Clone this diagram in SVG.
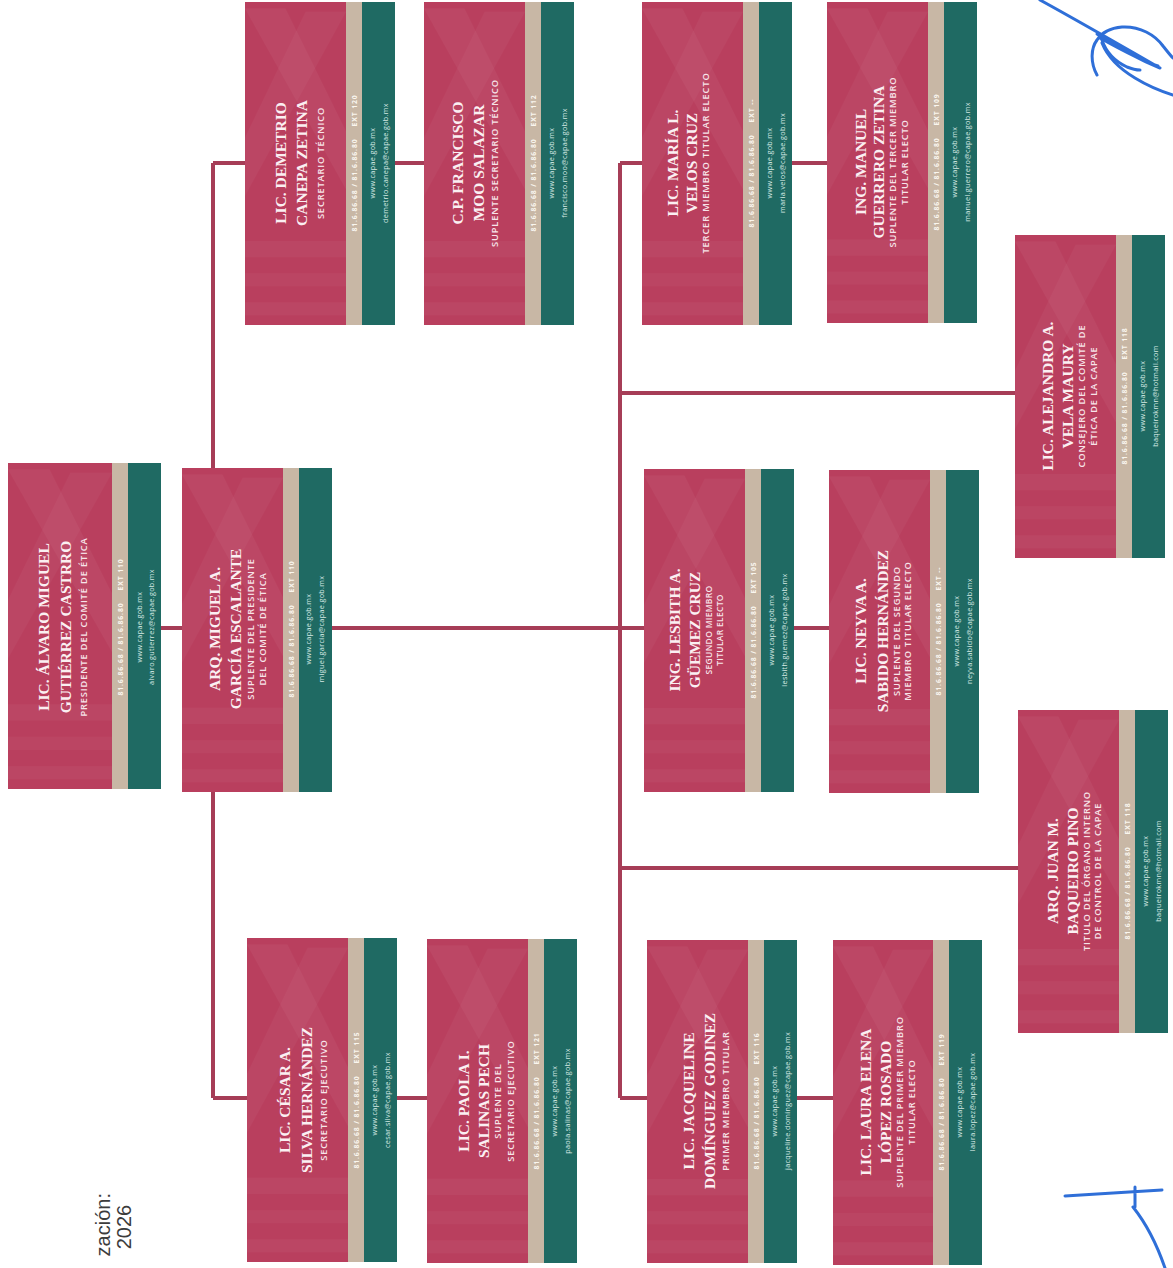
<svg xmlns="http://www.w3.org/2000/svg" width="1173" height="1268" viewBox="0 0 1173 1268">
<defs>
<pattern id="redpat" width="1" height="1" patternContentUnits="objectBoundingBox">
<rect width="1" height="1" fill="#b93f5e"/>
<polygon points="0,0.02 0.4,0.02 1,0.4 1,0.58" fill="#ffffff" opacity="0.045"/>
<polygon points="1,0.03 0.6,0.03 0,0.42 0,0.6" fill="#ffffff" opacity="0.035"/>
<rect y="0.74" width="1" height="0.05" fill="#ffffff" opacity="0.035"/>
<rect y="0.84" width="1" height="0.04" fill="#ffffff" opacity="0.03"/>
<rect y="0.93" width="1" height="0.04" fill="#ffffff" opacity="0.035"/>
</pattern>
</defs>
<style>
.r{fill:url(#redpat)}
.b{fill:#c8b7a5}
.t{fill:#1f6a63}
.nm{font-family:"Liberation Serif","DejaVu Serif",serif;font-weight:bold;font-size:15.5px;fill:#fbeff2;text-anchor:middle}
.sb{font-family:"Open Sans","Liberation Sans",sans-serif;font-weight:600;font-size:9.3px;letter-spacing:0.85px;fill:#f7e4e9;text-anchor:middle}
.ph{font-family:"Open Sans","Liberation Sans",sans-serif;font-weight:700;font-size:6.8px;letter-spacing:0.9px;fill:#faf6ef;text-anchor:middle}
.em{font-family:"Open Sans","Liberation Sans",sans-serif;font-size:7.2px;letter-spacing:0.35px;fill:#d6e9e4;text-anchor:middle}
.cn{stroke:#a63d57;stroke-width:4;fill:none}
.sig{stroke:#2f6fd8;stroke-width:3;fill:none;stroke-linecap:round;stroke-linejoin:round}
.dt{font-family:"Liberation Sans","Open Sans",sans-serif;font-size:20px;fill:#3c3c3c}
</style>

<g id="connectors">
<path class="cn" d="M160,628 H184 M213,163 V1098 M213,163 H247 M213,1098 H249 M392,163 H426 M396,1098 H429 M330,628 H646 M620,163 V1098 M620,163 H644 M620,393 H1017 M620,868 H1020 M620,1098 H649 M789,163 H829 M792,628 H831 M796,1098 H835"/>
</g>

<g id="n1" transform="translate(8,463)">
<rect class="r" width="104" height="326"/><rect class="b" x="104" width="16" height="326"/><rect class="t" x="120" width="33" height="326"/>
<g transform="translate(0,164) rotate(-90)">
<text class="nm" y="41">LIC. ÁLVARO MIGUEL</text>
<text class="nm" y="63">GUTIÉRREZ CASTRRO</text>
<text class="sb" y="79">PRESIDENTE DEL COMITÉ DE ÉTICA</text>
<text class="ph" y="115">81.6.86.68 / 81.6.86.80<tspan dx="12">EXT 110</tspan></text>
<text class="em" y="134">www.capae.gob.mx</text>
<text class="em" y="146">alvaro.gutierrez@capae.gob.mx</text>
</g>
</g>

<g id="n2" transform="translate(182,468)">
<rect class="r" width="101" height="324"/><rect class="b" x="101" width="16" height="324"/><rect class="t" x="117" width="33" height="324"/>
<g transform="translate(0,161) rotate(-90)">
<text class="nm" y="38">ARQ. MIGUEL A.</text>
<text class="nm" y="59">GARCÍA ESCALANTE</text>
<text class="sb" y="72">SUPLENTE DEL PRESIDENTE</text>
<text class="sb" y="84">DEL COMITÉ DE ÉTICA</text>
<text class="ph" y="112">81.6.86.68 / 81.6.86.80<tspan dx="12">EXT 110</tspan></text>
<text class="em" y="129">www.capae.gob.mx</text>
<text class="em" y="142">miguel.garcia@capae.gob.mx</text>
</g>
</g>

<g id="n3" transform="translate(245,2)">
<rect class="r" width="101" height="323"/><rect class="b" x="101" width="16" height="323"/><rect class="t" x="117" width="33" height="323"/>
<g transform="translate(0,161) rotate(-90)">
<text class="nm" y="41">LIC. DEMETRIO</text>
<text class="nm" y="62">CANEPA ZETINA</text>
<text class="sb" y="79">SECRETARIO TÉCNICO</text>
<text class="ph" y="112">81.6.86.68 / 81.6.86.80<tspan dx="12">EXT 120</tspan></text>
<text class="em" y="130">www.capae.gob.mx</text>
<text class="em" y="143">demetrio.canepa@capae.gob.mx</text>
</g>
</g>

<g id="n4" transform="translate(424,2)">
<rect class="r" width="101" height="323"/><rect class="b" x="101" width="16" height="323"/><rect class="t" x="117" width="33" height="323"/>
<g transform="translate(0,161) rotate(-90)">
<text class="nm" y="39">C.P. FRANCISCO</text>
<text class="nm" y="60">MOO SALAZAR</text>
<text class="sb" y="74">SUPLENTE SECRETARIO TÉCNICO</text>
<text class="ph" y="112">81.6.86.68 / 81.6.86.80<tspan dx="12">EXT 112</tspan></text>
<text class="em" y="130">www.capae.gob.mx</text>
<text class="em" y="143">francisco.moo@capae.gob.mx</text>
</g>
</g>

<g id="n5" transform="translate(247,938)">
<rect class="r" width="101" height="324"/><rect class="b" x="101" width="16" height="324"/><rect class="t" x="117" width="33" height="324"/>
<g transform="translate(0,162) rotate(-90)">
<text class="nm" y="43">LIC. CÉSAR A.</text>
<text class="nm" y="65">SILVA HERNÁNDEZ</text>
<text class="sb" y="80">SECRETARIO EJECUTIVO</text>
<text class="ph" y="112">81.6.86.68 / 81.6.86.80<tspan dx="12">EXT 115</tspan></text>
<text class="em" y="130">www.capae.gob.mx</text>
<text class="em" y="143">cesar.silva@capae.gob.mx</text>
</g>
</g>

<g id="n6" transform="translate(427,939)">
<rect class="r" width="101" height="324"/><rect class="b" x="101" width="16" height="324"/><rect class="t" x="117" width="33" height="324"/>
<g transform="translate(0,162) rotate(-90)">
<text class="nm" y="42">LIC. PAOLA I.</text>
<text class="nm" y="62">SALINAS PECH</text>
<text class="sb" y="74">SUPLENTE DEL</text>
<text class="sb" y="87">SECRETARIO EJECUTIVO</text>
<text class="ph" y="112">81.6.86.68 / 81.6.86.80<tspan dx="12">EXT 121</tspan></text>
<text class="em" y="130">www.capae.gob.mx</text>
<text class="em" y="143">paola.salinas@capae.gob.mx</text>
</g>
</g>

<g id="n7" transform="translate(642,2)">
<rect class="r" width="101" height="323"/><rect class="b" x="101" width="16" height="323"/><rect class="t" x="117" width="33" height="323"/>
<g transform="translate(0,161) rotate(-90)">
<text class="nm" y="36">LIC. MARÍA L.</text>
<text class="nm" y="55">VELOS CRUZ</text>
<text class="sb" y="67">TERCER MIEMBRO TITULAR ELECTO</text>
<text class="ph" y="112">81.6.86.68 / 81.6.86.80<tspan dx="12">EXT --</tspan></text>
<text class="em" y="130">www.capae.gob.mx</text>
<text class="em" y="143">maria.velos@capae.gob.mx</text>
</g>
</g>

<g id="n8" transform="translate(827,2)">
<rect class="r" width="101" height="321"/><rect class="b" x="101" width="16" height="321"/><rect class="t" x="117" width="33" height="321"/>
<g transform="translate(0,160) rotate(-90)">
<text class="nm" y="39">ING. MANUEL</text>
<text class="nm" y="57">GUERRERO ZETINA</text>
<text class="sb" y="69">SUPLENTE DEL TERCER MIEMBRO</text>
<text class="sb" y="81">TITULAR ELECTO</text>
<text class="ph" y="112">81.6.86.68 / 81.6.86.80<tspan dx="12">EXT 109</tspan></text>
<text class="em" y="130">www.capae.gob.mx</text>
<text class="em" y="143">manuel.guerrero@capae.gob.mx</text>
</g>
</g>

<g id="n9" transform="translate(1015,235)">
<rect class="r" width="101" height="323"/><rect class="b" x="101" width="16" height="323"/><rect class="t" x="117" width="33" height="323"/>
<g transform="translate(0,161) rotate(-90)">
<text class="nm" y="38">LIC. ALEJANDRO A.</text>
<text class="nm" y="58">VELA MAURY</text>
<text class="sb" y="70">CONSEJERO DEL COMITÉ DE</text>
<text class="sb" y="82">ÉTICA DE LA CAPAE</text>
<text class="ph" y="112">81.6.86.68 / 81.6.86.80<tspan dx="12">EXT 118</tspan></text>
<text class="em" y="130">www.capae.gob.mx</text>
<text class="em" y="143">baqueirokmn@hotmail.com</text>
</g>
</g>

<g id="n10" transform="translate(644,469)">
<rect class="r" width="101" height="323"/><rect class="b" x="101" width="16" height="323"/><rect class="t" x="117" width="33" height="323"/>
<g transform="translate(0,161) rotate(-90)">
<text class="nm" y="36">ING. LESBITH A.</text>
<text class="nm" y="56">GÜEMEZ CRUZ</text>
<text class="sb" y="68" style="font-size:8.5px;letter-spacing:0.3px">SEGUNDO MIEMBRO</text>
<text class="sb" y="79" style="font-size:8.5px;letter-spacing:0.3px">TITULAR ELECTO</text>
<text class="ph" y="112">81.6.86.68 / 81.6.86.80<tspan dx="12">EXT 105</tspan></text>
<text class="em" y="130">www.capae.gob.mx</text>
<text class="em" y="143">lesbith.guemez@capae.gob.mx</text>
</g>
</g>

<g id="n11" transform="translate(829,470)">
<rect class="r" width="101" height="323"/><rect class="b" x="101" width="16" height="323"/><rect class="t" x="117" width="33" height="323"/>
<g transform="translate(0,161) rotate(-90)">
<text class="nm" y="37">LIC. NEYVA A.</text>
<text class="nm" y="59">SABIDO HERNÁNDEZ</text>
<text class="sb" y="71">SUPLENTE DEL SEGUNDO</text>
<text class="sb" y="82">MIEMBRO TITULAR ELECTO</text>
<text class="ph" y="112">81.6.86.68 / 81.6.86.80<tspan dx="12">EXT --</tspan></text>
<text class="em" y="130">www.capae.gob.mx</text>
<text class="em" y="143">neyva.sabido@capae.gob.mx</text>
</g>
</g>

<g id="n12" transform="translate(1018,710)">
<rect class="r" width="101" height="323"/><rect class="b" x="101" width="16" height="323"/><rect class="t" x="117" width="33" height="323"/>
<g transform="translate(0,161) rotate(-90)">
<text class="nm" y="40">ARQ. JUAN M.</text>
<text class="nm" y="60">BAQUEIRO PINO</text>
<text class="sb" y="72">TITULO DEL ÓRGANO INTERNO</text>
<text class="sb" y="83">DE CONTROL DE LA CAPAE</text>
<text class="ph" y="112">81.6.86.68 / 81.6.86.80<tspan dx="12">EXT 118</tspan></text>
<text class="em" y="130">www.capae.gob.mx</text>
<text class="em" y="143">baqueirokmn@hotmail.com</text>
</g>
</g>

<g id="n13" transform="translate(647,940)">
<rect class="r" width="101" height="323"/><rect class="b" x="101" width="16" height="323"/><rect class="t" x="117" width="33" height="323"/>
<g transform="translate(0,161) rotate(-90)">
<text class="nm" y="47">LIC. JACQUELINE</text>
<text class="nm" y="68">DOMÍNGUEZ GODINEZ</text>
<text class="sb" y="82">PRIMER MIEMBRO TITULAR</text>
<text class="ph" y="112">81.6.86.68 / 81.6.86.80<tspan dx="12">EXT 116</tspan></text>
<text class="em" y="130">www.capae.gob.mx</text>
<text class="em" y="143">jacqueline.dominguez@capae.gob.mx</text>
</g>
</g>

<g id="n14" transform="translate(833,940)">
<rect class="r" width="100" height="325"/><rect class="b" x="100" width="16" height="325"/><rect class="t" x="116" width="33" height="325"/>
<g transform="translate(0,162) rotate(-90)">
<text class="nm" y="38">LIC. LAURA ELENA</text>
<text class="nm" y="58">LÓPEZ ROSADO</text>
<text class="sb" y="70">SUPLENTE DEL PRIMER MIEMBRO</text>
<text class="sb" y="82">TITULAR ELECTO</text>
<text class="ph" y="111">81.6.86.68 / 81.6.86.80<tspan dx="12">EXT 119</tspan></text>
<text class="em" y="129">www.capae.gob.mx</text>
<text class="em" y="142">laura.lopez@capae.gob.mx</text>
</g>
</g>

<text class="dt" transform="translate(110,1193) rotate(-90)" text-anchor="end">zación:</text>
<text class="dt" transform="translate(131,1227) rotate(-90)" text-anchor="middle">2026</text>

<g id="signatures">
<path class="sig" d="M1040,0 C1080,22 1120,45 1160,68 C1140,60 1118,48 1097,34 M1100,38 C1125,52 1145,62 1158,66"/>
<path class="sig" d="M1097,75 C1090,62 1091,48 1097,40 C1102,32 1110,28 1122,27 C1140,26 1155,35 1163,46 C1167,51 1170,55 1173,58"/>
<path class="sig" d="M1102,40 C1106,52 1114,61 1127,67 C1132,69 1136,70 1140,70"/>
<path class="sig" d="M1102,43 C1108,58 1120,69 1135,78 C1148,86 1160,91 1173,95"/>
<path class="sig" d="M1065,1196 C1095,1194 1130,1192 1162,1190 M1135,1187 V1207 M1133,1207 C1145,1222 1156,1242 1165,1268"/>
</g>
</svg>
